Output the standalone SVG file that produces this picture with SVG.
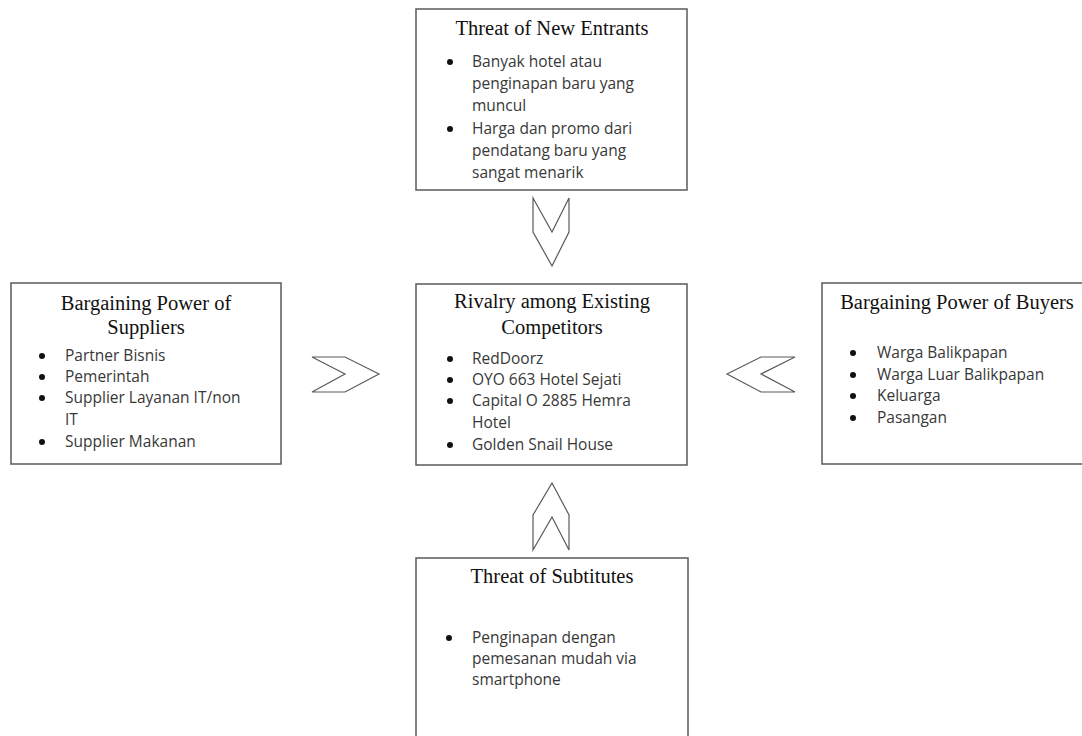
<svg xmlns="http://www.w3.org/2000/svg" width="1082" height="736" viewBox="0 0 1082 736">
<style>
.box{fill:#fff;stroke:#5a5a5a;stroke-width:1.5}
.ttl{font-family:"Liberation Serif","Times New Roman",serif;font-size:20.5px;fill:#111;text-anchor:middle}
.itm{font-family:"Open Sans","Liberation Sans",sans-serif;font-size:15.5px;fill:#383838}
.dot{fill:#111}
.arr{fill:#fff;stroke:#5a5a5a;stroke-width:1.2;stroke-linejoin:miter}
</style>
<rect width="1082" height="736" fill="#fff"/>
<g id="connectors">
<polygon class="arr" points="533,198 552,232 569,198 569,232 552,266 533,232"/>
<polygon class="arr" points="533,550 552,517 569,550 569,515 552,483 533,515"/>
<polygon class="arr" points="312,357 345,357 379,374 345,392 312,392 345,374"/>
<polygon class="arr" points="795,357 761,357 727,374 761,392 795,392 761,374"/>
</g>
<g id="new-entrants">
<rect class="box" x="416" y="9" width="271" height="181"/>
<text class="ttl" x="552" y="35">Threat of New Entrants</text>
<circle class="dot" cx="450" cy="62" r="3"/>
<text class="itm" x="472" y="67">Banyak hotel atau</text>
<text class="itm" x="472" y="89">penginapan baru yang</text>
<text class="itm" x="472" y="111">muncul</text>
<circle class="dot" cx="450" cy="129" r="3"/>
<text class="itm" x="472" y="134">Harga dan promo dari</text>
<text class="itm" x="472" y="156">pendatang baru yang</text>
<text class="itm" x="472" y="178">sangat menarik</text>
</g>
<g id="suppliers">
<rect class="box" x="11" y="283" width="270" height="181"/>
<text class="ttl" x="146" y="310">Bargaining Power of</text>
<text class="ttl" x="146" y="334">Suppliers</text>
<circle class="dot" cx="42" cy="356" r="3"/>
<text class="itm" x="65" y="361">Partner Bisnis</text>
<circle class="dot" cx="42" cy="377" r="3"/>
<text class="itm" x="65" y="382">Pemerintah</text>
<circle class="dot" cx="42" cy="398" r="3"/>
<text class="itm" x="65" y="403">Supplier Layanan IT/non</text>
<text class="itm" x="65" y="425">IT</text>
<circle class="dot" cx="42" cy="442" r="3"/>
<text class="itm" x="65" y="447">Supplier Makanan</text>
</g>
<g id="rivalry">
<rect class="box" x="416" y="284" width="271" height="181"/>
<text class="ttl" x="552" y="308">Rivalry among Existing</text>
<text class="ttl" x="552" y="334">Competitors</text>
<circle class="dot" cx="450" cy="359" r="3"/>
<text class="itm" x="472" y="364">RedDoorz</text>
<circle class="dot" cx="450" cy="380" r="3"/>
<text class="itm" x="472" y="385">OYO 663 Hotel Sejati</text>
<circle class="dot" cx="450" cy="401" r="3"/>
<text class="itm" x="472" y="406">Capital O 2885 Hemra</text>
<text class="itm" x="472" y="428">Hotel</text>
<circle class="dot" cx="450" cy="445" r="3"/>
<text class="itm" x="472" y="450">Golden Snail House</text>
</g>
<g id="buyers">
<rect class="box" x="822" y="283" width="270" height="181"/>
<text class="ttl" x="957" y="309">Bargaining Power of Buyers</text>
<circle class="dot" cx="853" cy="353" r="3"/>
<text class="itm" x="877" y="358">Warga Balikpapan</text>
<circle class="dot" cx="853" cy="375" r="3"/>
<text class="itm" x="877" y="380">Warga Luar Balikpapan</text>
<circle class="dot" cx="853" cy="396" r="3"/>
<text class="itm" x="877" y="401">Keluarga</text>
<circle class="dot" cx="853" cy="418" r="3"/>
<text class="itm" x="877" y="423">Pasangan</text>
</g>
<g id="substitutes">
<rect class="box" x="416" y="558" width="272" height="200"/>
<text class="ttl" x="552" y="583">Threat of Subtitutes</text>
<circle class="dot" cx="449" cy="638" r="3"/>
<text class="itm" x="472" y="643">Penginapan dengan</text>
<text class="itm" x="472" y="664">pemesanan mudah via</text>
<text class="itm" x="472" y="685">smartphone</text>
</g>
</svg>
